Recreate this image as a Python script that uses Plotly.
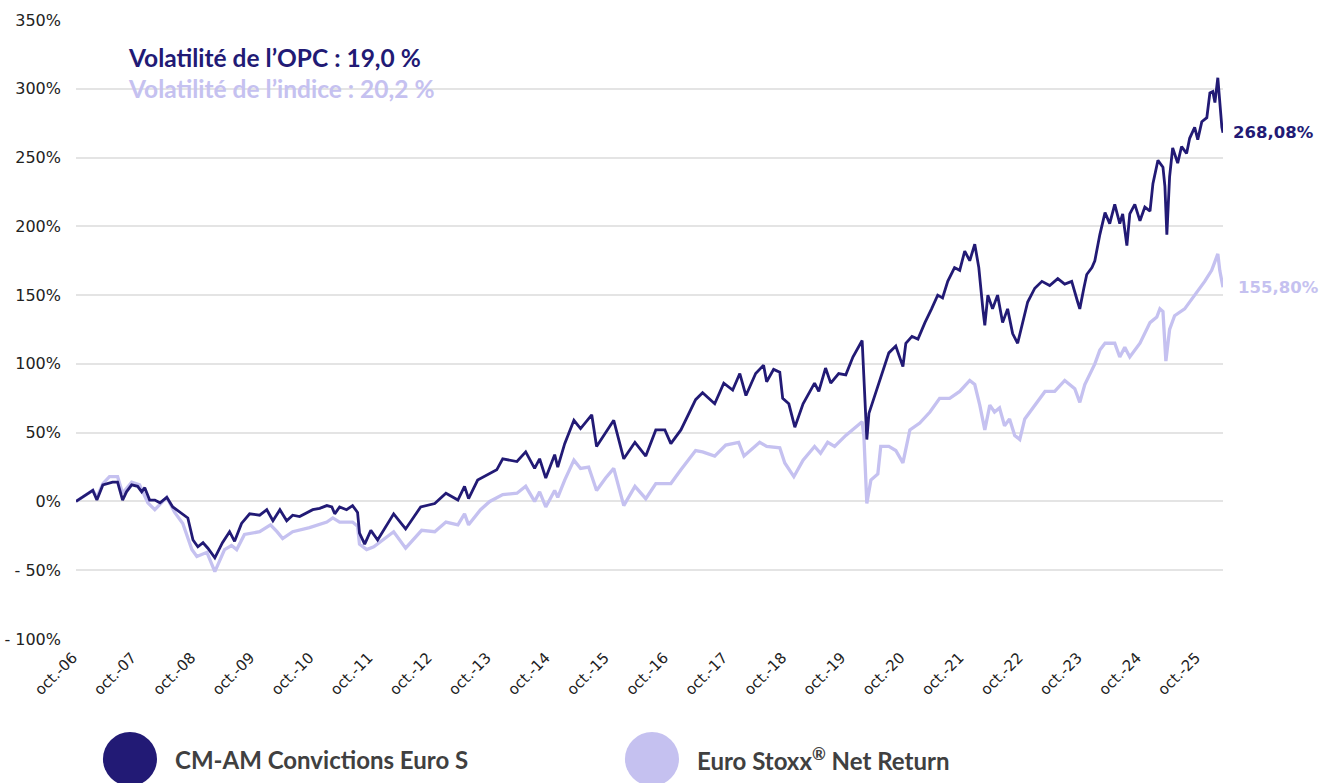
import plotly.graph_objects as go

# ---------------- data ----------------
fund_dates = [
    "2006-09-13", "2006-12-26",
    "2007-01-20", "2007-02-26", "2007-04-27", "2007-05-28", "2007-06-28", "2007-07-22", "2007-08-23", "2007-09-29", "2007-10-24", "2007-11-12", "2007-12-12",
    "2008-01-13", "2008-02-14", "2008-03-27", "2008-05-03", "2008-07-04", "2008-08-04", "2008-09-05", "2008-10-05", "2008-11-06", "2008-12-06",
    "2009-01-18", "2009-03-06", "2009-04-19", "2009-05-20", "2009-07-02", "2009-08-21", "2009-10-22", "2009-12-05",
    "2010-01-12", "2010-02-24", "2010-04-07", "2010-05-14", "2010-06-26", "2010-08-09", "2010-09-15", "2010-10-28", "2010-12-11",
    "2011-01-11", "2011-01-29", "2011-02-28", "2011-04-12", "2011-05-19", "2011-06-19", "2011-07-01", "2011-08-02", "2011-09-09", "2011-10-21",
    "2012-01-28", "2012-04-11", "2012-07-13", "2012-10-08", "2012-12-16",
    "2013-02-28", "2013-04-10", "2013-05-05", "2013-06-30", "2013-09-07", "2013-10-26", "2013-12-02",
    "2014-02-28", "2014-04-23", "2014-06-17", "2014-07-18", "2014-08-25", "2014-10-19", "2014-11-07", "2014-12-20",
    "2015-02-15", "2015-03-28", "2015-06-05", "2015-07-05", "2015-08-30", "2015-10-19", "2015-12-20",
    "2016-02-27", "2016-05-04", "2016-07-05", "2016-08-30", "2016-10-06", "2016-12-07",
    "2017-03-08", "2017-04-20", "2017-07-04", "2017-08-29", "2017-10-23", "2017-12-06",
    "2018-01-13", "2018-03-14", "2018-05-02", "2018-05-21", "2018-07-03", "2018-08-10", "2018-08-28", "2018-10-05", "2018-11-11",
    "2019-01-01", "2019-03-13", "2019-04-08", "2019-05-20", "2019-06-21", "2019-08-09", "2019-09-22", "2019-11-05",
    "2020-01-01", "2020-01-12", "2020-01-30", "2020-02-12", "2020-03-13", "2020-04-25", "2020-06-14", "2020-07-27", "2020-09-09", "2020-09-27", "2020-11-04", "2020-12-11",
    "2021-01-23", "2021-03-05", "2021-04-12", "2021-05-12", "2021-06-13", "2021-07-25", "2021-08-26", "2021-09-26", "2021-10-27", "2021-11-27", "2021-12-22",
    "2022-01-16", "2022-01-28", "2022-02-16", "2022-03-17", "2022-04-17", "2022-05-18", "2022-06-18", "2022-07-19", "2022-08-19", "2022-09-20", "2022-10-20", "2022-12-03",
    "2023-01-16", "2023-03-05", "2023-04-24", "2023-06-06", "2023-07-19", "2023-08-25", "2023-09-07", "2023-10-02", "2023-10-20", "2023-11-21", "2023-12-09",
    "2024-01-09", "2024-02-10", "2024-03-10", "2024-04-10", "2024-05-11", "2024-05-29", "2024-06-24", "2024-07-12", "2024-08-12", "2024-09-13", "2024-10-13", "2024-11-14", "2024-12-02",
    "2025-01-02", "2025-02-02", "2025-02-14", "2025-02-26", "2025-03-15", "2025-04-03", "2025-05-04", "2025-05-28", "2025-06-28", "2025-07-17", "2025-08-17", "2025-09-05", "2025-09-30", "2025-10-31", "2025-11-19", "2025-12-07", "2025-12-20",
    "2026-01-07", "2026-01-19", "2026-02-01", "2026-02-08",
]
fund_values = [
    0, 8,
    1, 12, 14, 14, 1, 7, 12, 11, 7, 10, 1,
    1, -1, 3, -4, -9, -12, -28, -33, -30, -34,
    -41, -30, -22, -29, -16, -9, -10, -6,
    -14, -6, -14, -10, -11, -8, -6, -5, -3,
    -4, -9, -4, -6, -3, -8, -23, -31, -21, -28,
    -9, -20, -4, -1.5, 6,
    1, 11, 2, 15.5, 20, 23, 31,
    29, 36, 24, 31, 17, 34, 25, 42,
    59, 53, 63, 40, 50, 59, 31,
    43, 33, 52, 52, 42, 52,
    74, 79, 71, 86, 81, 93,
    77, 93, 99, 87, 96, 94, 75, 71, 54,
    71, 86, 80, 97, 86, 93, 92, 105,
    117, 93, 45, 64, 75, 91, 108, 113, 98, 115, 120, 118,
    130, 140, 150, 148, 160, 170, 168, 182, 175, 187, 170,
    140, 128, 150, 140, 150, 130, 140, 122, 115, 130, 145, 155,
    160, 157, 162, 158, 160, 145, 140, 155, 165, 170, 175,
    194, 210, 202, 216, 202, 209, 186, 209, 216, 204, 214, 211, 231,
    248, 243, 229, 194, 236, 257, 246, 258, 253, 264, 272, 263, 276, 279, 297, 298, 290,
    308, 287, 272, 268.08,
]

index_dates = [
    "2006-09-13", "2006-12-26",
    "2007-01-20", "2007-02-26", "2007-04-08", "2007-05-28", "2007-06-28", "2007-08-23", "2007-10-11", "2007-12-01",
    "2008-01-13", "2008-03-27", "2008-05-15", "2008-07-04", "2008-08-29", "2008-09-29", "2008-11-30",
    "2009-01-18", "2009-03-19", "2009-05-01", "2009-06-02", "2009-07-20", "2009-10-22", "2009-12-28",
    "2010-02-06", "2010-03-13", "2010-05-14", "2010-08-26", "2010-12-11",
    "2011-01-17", "2011-02-28", "2011-05-19", "2011-06-19", "2011-07-01", "2011-08-14", "2011-09-27",
    "2012-01-28", "2012-04-11", "2012-07-19", "2012-10-08", "2012-12-16",
    "2013-02-28", "2013-04-10", "2013-05-05", "2013-07-18", "2013-09-13", "2013-12-02",
    "2014-02-28", "2014-04-23", "2014-06-17", "2014-07-18", "2014-08-25", "2014-10-19", "2014-11-07", "2014-12-20",
    "2015-02-15", "2015-03-28", "2015-05-17", "2015-07-05", "2015-08-30", "2015-10-19", "2015-12-20",
    "2016-02-27", "2016-05-04", "2016-07-05", "2016-10-06", "2016-12-07",
    "2017-03-08", "2017-04-20", "2017-07-04", "2017-09-10", "2017-11-29",
    "2018-01-01", "2018-04-08", "2018-05-21", "2018-08-10", "2018-09-10", "2018-11-05",
    "2019-01-01", "2019-03-13", "2019-04-19", "2019-06-02", "2019-07-15", "2019-09-22",
    "2020-01-01", "2020-01-12", "2020-01-30", "2020-02-24", "2020-04-07", "2020-04-25", "2020-06-14", "2020-07-27", "2020-09-09", "2020-10-22", "2020-12-22",
    "2021-02-23", "2021-04-24", "2021-06-25", "2021-08-26", "2021-10-27", "2021-11-27", "2021-12-28",
    "2022-01-28", "2022-02-28", "2022-03-29", "2022-04-29", "2022-05-30", "2022-06-30", "2022-08-01", "2022-09-01", "2022-10-02", "2022-12-03",
    "2023-02-04", "2023-04-05", "2023-06-06", "2023-08-07", "2023-09-07", "2023-10-08", "2023-12-09",
    "2024-01-09", "2024-02-10", "2024-04-10", "2024-05-11", "2024-06-11", "2024-07-12", "2024-09-13", "2024-11-14", "2024-12-26",
    "2025-01-14", "2025-02-02", "2025-02-20", "2025-03-15", "2025-04-15", "2025-06-16", "2025-08-17", "2025-10-18", "2025-11-30",
    "2026-01-07", "2026-01-19", "2026-02-08",
]
index_values = [
    0, 8,
    3, 13, 18, 18, 6, 14, 12, -1,
    -6, 3, -8, -16, -35, -40, -37,
    -51, -35, -32, -35, -24, -22, -17,
    -22, -27, -22, -19, -15,
    -12, -15, -15, -18, -31, -35, -33,
    -22, -34, -21, -22, -15,
    -17, -9, -17, -6, 0, 5,
    6, 11, 0, 7, -4, 8, 3, 15.5,
    30, 24, 25, 8, 17, 24, -3,
    11, 2, 13, 13, 23,
    37, 36, 33, 41, 43,
    33, 43, 40, 39, 28, 18,
    30, 40, 35, 43, 40, 48,
    58, 47, -1.5, 15.5, 20, 40, 40, 37, 28, 52, 57,
    65, 75, 75, 80, 88, 85, 70,
    52, 70, 65, 68, 55, 60, 48, 45, 60, 70,
    80, 80, 88, 82, 72, 85, 100,
    110, 115, 115, 105, 112, 105, 115, 130, 134,
    140, 138, 102, 125, 135, 140, 150, 160, 168,
    180, 168, 155.8,
]

tick_dates = [f"{y}-10-01" for y in range(2006, 2026)]
tick_labels = [f"oct.-{y % 100:02d}" for y in range(2006, 2026)]
y_ticks = [-100, -50, 0, 50, 100, 150, 200, 250, 300, 350]
y_tick_labels = ["- 100%", "- 50%", "0%", "50%", "100%", "150%", "200%", "250%", "300%", "350%"]

fund_name = "CM-AM Convictions Euro S"
index_name = "Euro Stoxx<sup>®</sup> Net Return"
fund_vol_text = "Volatilité de l’OPC : 19,0 %"
index_vol_text = "Volatilité de l’indice : 20,2 %"
fund_end_label = "268,08%"
index_end_label = "155,80%"

DARK = "#221a75"
LIGHT = "#c5c1f0"
TEXT_GREY = "#404040"

fig = go.Figure()
fig.add_trace(go.Scatter(x=index_dates, y=index_values, mode="lines",
                         line=dict(color=LIGHT, width=3.3), name="Euro Stoxx® Net Return",
                         showlegend=False))
fig.add_trace(go.Scatter(x=fund_dates, y=fund_values, mode="lines",
                         line=dict(color=DARK, width=2.8), name=fund_name,
                         showlegend=False))

# end-of-series labels
fig.add_annotation(x=fund_dates[-1], y=fund_values[-1], text=f"<b>{fund_end_label}</b>",
                   xref="x", yref="y", xanchor="left", yanchor="middle", xshift=8,
                   showarrow=False, font=dict(family="DejaVu Sans", size=16.5, color=DARK))
fig.add_annotation(x=index_dates[-1], y=index_values[-1], text=f"<b>{index_end_label}</b>",
                   xref="x", yref="y", xanchor="left", yanchor="middle", xshift=13,
                   showarrow=False, font=dict(family="DejaVu Sans", size=16.5, color=LIGHT))

# volatility texts
fig.add_shape(type="rect", xref="paper", yref="y", x0=0.040, x1=0.383, y0=292, y1=308,
              fillcolor="white", line=dict(width=0), layer="between")
fig.add_annotation(x=0.0435, y=323, xref="paper", yref="y", xanchor="left", yanchor="middle",
                   text=f"<b>{fund_vol_text}</b>", showarrow=False,
                   font=dict(family="Lato", size=24.5, color=DARK))
fig.add_annotation(x=0.0435, y=300, xref="paper", yref="y", xanchor="left", yanchor="middle",
                   text=f"<b>{index_vol_text}</b>", showarrow=False,
                   font=dict(family="Lato", size=24.5, color=LIGHT))

# custom legend (large discs)
for cx0, cx1, col, name, tx in [
    (0.0235, 0.0706, DARK, fund_name, 0.0850),
    (0.4786, 0.5257, LIGHT, index_name, 0.5400),
]:
    fig.add_shape(type="circle", xref="paper", yref="paper", x0=cx0, x1=cx1,
                  y0=-0.2375, y1=-0.1502, fillcolor=col, line=dict(width=0))
    fig.add_annotation(x=tx, y=-0.1939, xref="paper", yref="paper", xanchor="left",
                       yanchor="middle", text=f"<b>{name}</b>", showarrow=False,
                       font=dict(family="Lato", size=24, color=TEXT_GREY))

fig.update_layout(
    width=1322, height=783,
    margin=dict(l=76, r=99, t=20, b=144, autoexpand=False),
    paper_bgcolor="white", plot_bgcolor="white",
    showlegend=False,
    font=dict(family="DejaVu Sans", color="#222222"),
)
fig.update_xaxes(
    type="date", range=["2006-09-13", "2026-02-08"],
    tickmode="array", tickvals=tick_dates, ticktext=tick_labels,
    tickangle=-45, tickfont=dict(size=15, color="#222222"),
    showgrid=False, zeroline=False, showline=False, ticks="",
    ticklabelstandoff=6, ticklabelshift=-6, automargin=False,
)
fig.update_yaxes(
    range=[-100, 350], tickmode="array", tickvals=y_ticks, ticktext=y_tick_labels,
    tickfont=dict(size=16, color="#222222"),
    showgrid=True, gridcolor="#e4e4e4", gridwidth=2,
    zeroline=False, showline=False, ticks="", ticklabelstandoff=14, automargin=False,
)

fig.write_html("out.html", config={"displayModeBar": False},
               post_script="document.body.style.margin='0';document.body.style.overflow='hidden';")
